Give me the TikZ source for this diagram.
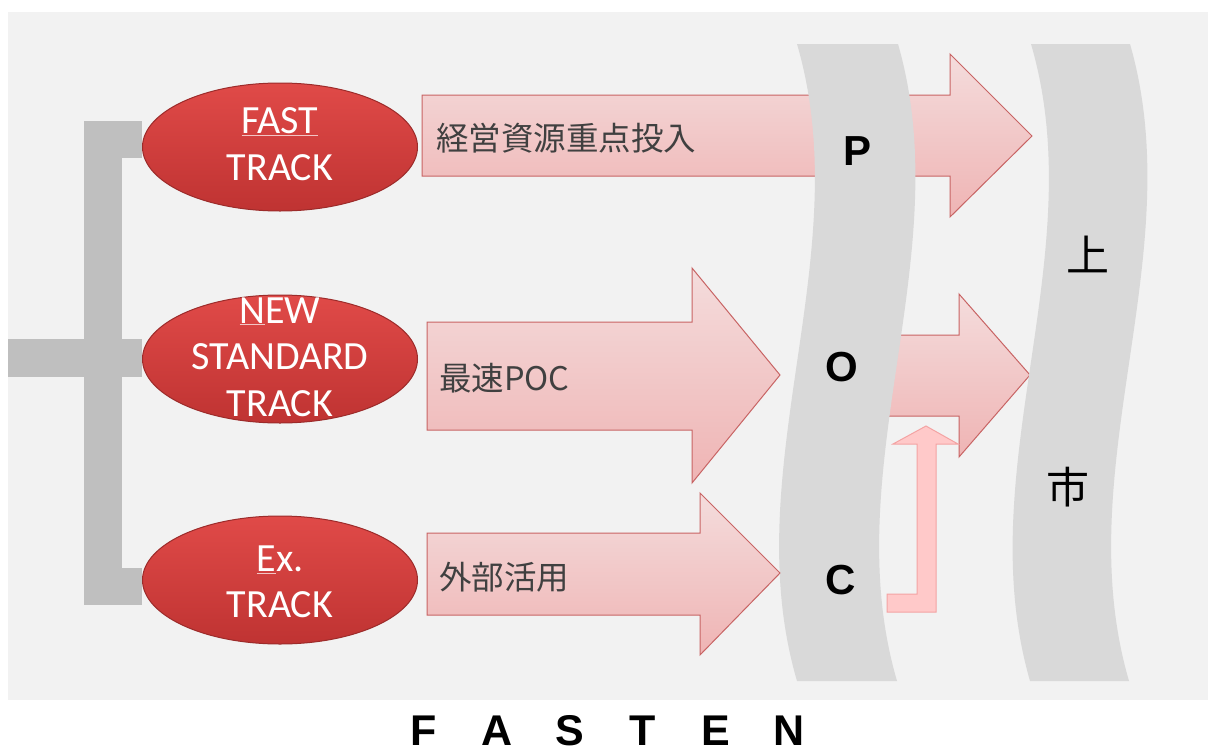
\documentclass[tikz,border=0pt]{standalone}
\usepackage{fontspec}
\setmainfont{Carlito}
\newfontfamily\arialf{Liberation Sans}
\newfontfamily\cjkf{Noto Sans CJK JP}
\usetikzlibrary{shapes.geometric}
\definecolor{panel}{HTML}{F2F2F2}
\definecolor{barc}{HTML}{BFBFBF}
\definecolor{bandc}{HTML}{D9D9D9}
\definecolor{redtop}{HTML}{E04A48}
\definecolor{redbot}{HTML}{BF3332}
\definecolor{redrim}{HTML}{9C2B2A}
\definecolor{pinktop}{HTML}{F4DCDC}
\definecolor{pinkbot}{HTML}{EFB4B4}
\definecolor{pinkrim}{HTML}{C86464}
\definecolor{uparrow}{HTML}{FFC9C9}
\definecolor{uprim}{HTML}{F4A3A3}
\definecolor{ulc}{HTML}{F2C4C4}
\definecolor{labc}{HTML}{404040}
\newcommand\pinkul[1]{{\color{ulc}\underline{\textcolor{white}{#1}}}}
\begin{document}
\begin{tikzpicture}[x=1pt,y=-1pt,
 trackell/.style={ellipse, minimum width=275pt, minimum height=128pt, inner sep=0pt,
   top color=redtop, bottom color=redbot, draw=redrim, line width=1pt},
 tracktext/.style={text=white, align=center, inner sep=0pt,
   font=\fontsize{40}{46.5}\selectfont},
 blockarrow/.style={top color=pinktop, bottom color=pinkbot, draw=pinkrim, line width=1pt},
 uparr/.style={fill=uparrow, draw=uprim, line width=1pt},
 band/.style={fill=bandc},
 poc/.style={font=\arialf\bfseries\fontsize{42}{42}\selectfont, text=black, inner sep=0pt},
 mkt/.style={font=\cjkf\fontsize{43}{43}\selectfont, text=black, inner sep=0pt},
 lab/.style={font=\cjkf\fontsize{32.5}{33}\selectfont, text=labc, anchor=west, inner sep=0pt},
]
\useasboundingbox (0,0) rectangle (1208,755);
\clip (0,0) rectangle (1208,755);
\fill[white] (0,0) rectangle (1208,755);
\fill[panel] (8,12) rectangle (1208,700);

% bracket
\fill[barc] (84,121) rectangle (122,605);
\fill[barc] (87,121) rectangle (142,158);
\fill[barc] (8,339) rectangle (142,377);
\fill[barc] (84,568) rectangle (142,605);

% arrows behind bands
\draw[blockarrow] (422,95) -- (950,95) -- (950,54) -- (1032,136) -- (950,217) -- (950,176) -- (422,176) -- cycle;
\draw[blockarrow] (870,335) -- (959,335) -- (959,294) -- (1030,375) -- (959,457) -- (959,416) -- (870,416) -- cycle;

% bands
\fill[band] (797,44) .. controls (859,256) and (735,469) .. (797,681) -- (897,681) .. controls (835,469) and (959,256) .. (898,44) -- cycle;
\fill[band] (1031,44) .. controls (1093,256) and (969,469) .. (1030,681) -- (1129,681) .. controls (1067,469) and (1191,256) .. (1130,44) -- cycle;

% arrows in front
\draw[blockarrow] (427,322) -- (692,322) -- (692,268) -- (780,375) -- (692,483) -- (692,430) -- (427,430) -- cycle;
\draw[blockarrow] (427,533) -- (700,533) -- (700,493) -- (780,573) -- (700,655) -- (700,615) -- (427,615) -- cycle;
\draw[uparr] (887,594) -- (917,594) -- (917,444) -- (893,444) -- (926,426) -- (958,444) -- (936,444) -- (936,612) -- (887,612) -- cycle;

% ellipses
\node[trackell] (fast) at (280,147) {};
\node[tracktext] (fastt) at (280,144) {\pinkul{FAST}\\TRACK};
\node[trackell] (news) at (280,359) {};
\node[tracktext] (newst) at (280,357) {\pinkul{N}EW\\STANDARD\\TRACK};
\node[trackell] (ext) at (280,580) {};
\node[tracktext] (extt) at (280,582) {\pinkul{E}x.\\TRACK};

% labels
\node[lab] (l1) at (436,138) {経営資源重点投入};
\node[lab] (l2) at (439,378) {最速POC};
\node[lab] (l3) at (439,577) {外部活用};

\node[poc] (p) at (857,151) {P};
\node[poc] (o) at (842,367) {O};
\node[poc] (c) at (841,580) {C};
\node[mkt] (s1) at (1088,254) {上};
\node[mkt] (s2) at (1068,487) {市};

\node[font=\arialf\bfseries\fontsize{43}{43}\selectfont, anchor=base, inner sep=0pt] (fasten) at (606.5,745)
 {\makebox[73pt]{F}\makebox[73pt]{A}\makebox[73pt]{S}\makebox[73pt]{T}\makebox[73pt]{E}\makebox[73pt]{N}};
\end{tikzpicture}
\end{document}
